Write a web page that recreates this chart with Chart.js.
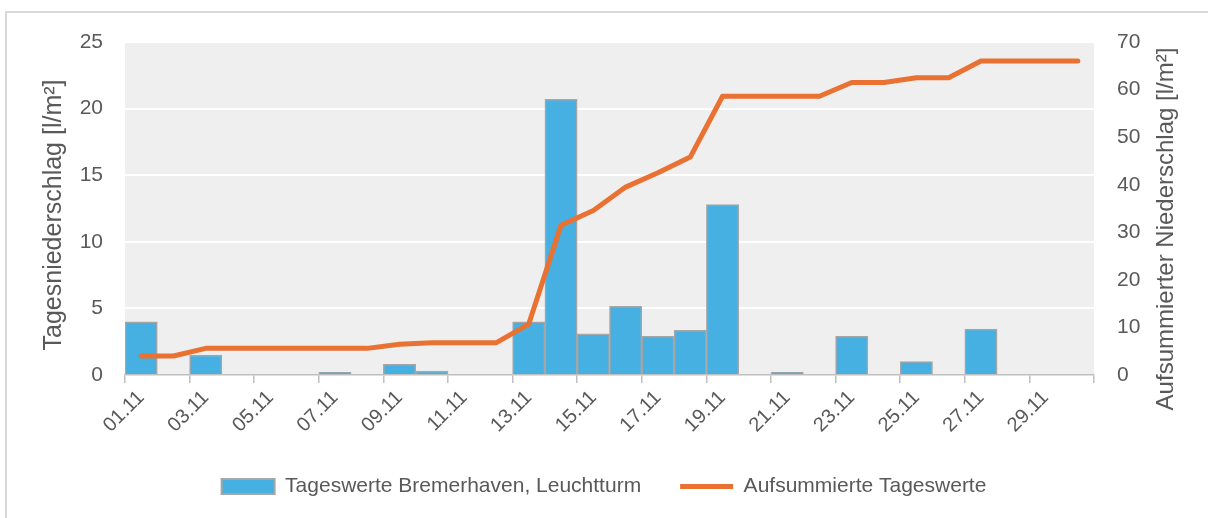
<!DOCTYPE html>
<html>
<head>
<meta charset="utf-8">
<script src="https://cdn.jsdelivr.net/npm/chart.js@4.4.1/dist/chart.umd.min.js"></script>
<style>
  html, body { margin: 0; padding: 0; background: #fff; overflow: hidden; }
  #frame { position: absolute; left: 5px; top: 11px; width: 1300px; height: 600px; border: 2px solid #d9d9d9; }
  #chart { position: absolute; left: 0; top: 0; }
</style>
</head>
<body>
<div id="frame"></div>
<canvas id="chart" width="1208" height="518"></canvas>
<script>
const days = ['01.11', '02.11', '03.11', '04.11', '05.11', '06.11', '07.11', '08.11', '09.11', '10.11',
  '11.11', '12.11', '13.11', '14.11', '15.11', '16.11', '17.11', '18.11', '19.11', '20.11',
  '21.11', '22.11', '23.11', '24.11', '25.11', '26.11', '27.11', '28.11', '29.11', '30.11'];
const dailyRain = [4.0, 0, 1.5, 0, 0, 0, 0.2, 0, 0.8, 0.3,
  0, 0, 4.0, 20.7, 3.1, 5.15, 2.9, 3.35, 12.8, 0,
  0.2, 0, 2.9, 0, 1.0, 0, 3.45, 0, 0, 0];
const cumulativeRain = [4.0, 4.0, 5.6, 5.6, 5.6, 5.6, 5.6, 5.6, 6.45, 6.8,
  6.8, 6.8, 10.7, 31.5, 34.6, 39.5, 42.5, 45.8, 58.6, 58.6,
  58.6, 58.6, 61.5, 61.5, 62.5, 62.5, 66.0, 66.0, 66.0, 66.0];
const barLabel = 'Tageswerte Bremerhaven, Leuchtturm';
const lineLabel = 'Aufsummierte Tageswerte';
const leftTitle = 'Tagesniederschlag [l/m²]';
const rightTitle = 'Aufsummierter Niederschlag [l/m²]';

const textColor = '#595959';
const fontFamily = '"Liberation Sans", Arial, sans-serif';
Chart.defaults.font.family = fontFamily;
Chart.defaults.color = textColor;

// grey plot area and the rotated axis titles (both read bottom to top)
const plotDecor = {
  id: 'plotDecor',
  beforeDraw(chart) {
    const a = chart.chartArea;
    const c = chart.ctx;
    c.save();
    c.fillStyle = '#efefef';
    c.fillRect(a.left, a.top, a.right - a.left, a.bottom - a.top);
    c.restore();
  },
  afterDraw(chart) {
    const c = chart.ctx;
    c.save();
    c.fillStyle = textColor;
    c.textAlign = 'center';
    c.textBaseline = 'middle';
    [[leftTitle, 54, 215, 25], [rightTitle, 1166, 229, 24]].forEach(([t, x, y, size]) => {
      c.save();
      c.font = size + 'px ' + fontFamily;
      c.translate(x, y);
      c.rotate(-Math.PI / 2);
      c.fillText(t, 0, 0);
      c.restore();
    });
    c.restore();
  }
};

const ctx = document.getElementById('chart').getContext('2d');
const chart = new Chart(ctx, {
  type: 'bar',
  data: {
    labels: days,
    datasets: [{
      type: 'bar',
      label: barLabel,
      data: dailyRain,
      yAxisID: 'y',
      backgroundColor: '#45b0e1',
      borderColor: '#a6a6a6',
      borderWidth: 1.5,
      categoryPercentage: 1,
      barPercentage: 1,
      order: 1
    }, {
      type: 'line',
      label: lineLabel,
      data: cumulativeRain,
      yAxisID: 'y1',
      borderColor: '#e97132',
      backgroundColor: '#e97132',
      borderWidth: 5,
      tension: 0,
      pointRadius: 0,
      borderJoinStyle: 'round',
      borderCapStyle: 'round',
      order: 0
    }]
  },
  options: {
    responsive: false,
    animation: false,
    devicePixelRatio: 1,
    layout: { padding: { left: 0, right: 0, top: 42, bottom: 11 } },
    plugins: {
      tooltip: { enabled: false },
      legend: {
        position: 'bottom',
        labels: {
          usePointStyle: true,
          pointStyleWidth: 53,
          boxHeight: 15,
          padding: 39,
          color: textColor,
          font: { size: 21 },
          sort: (a, b) => a.datasetIndex - b.datasetIndex,
          generateLabels(ch) {
            const items = Chart.defaults.plugins.legend.labels.generateLabels(ch);
            items.forEach(it => {
              it.pointStyle = it.datasetIndex === 0 ? 'rect' : 'line';
              if (it.datasetIndex === 0) it.lineWidth = 2;
            });
            return items;
          }
        }
      }
    },
    scales: {
      x: {
        offset: true,
        afterFit: s => { s.height = 62; },
        grid: {
          offset: true,
          drawOnChartArea: false,
          drawTicks: true,
          tickLength: 8,
          lineWidth: 1.5,
          color: c => (c.type !== 'tick' || c.index % 2 === 0) ? '#bfbfbf' : 'rgba(0,0,0,0)'
        },
        border: { display: true, color: '#bfbfbf', width: 1.5 },
        ticks: {
          autoSkip: false,
          maxRotation: 45,
          minRotation: 45,
          padding: 3,
          font: { size: 20 },
          callback: (v, i) => i % 2 === 0 ? days[i] : ''
        }
      },
      y: {
        position: 'left',
        min: 0,
        max: 25,
        afterFit: s => { s.width = 125; },
        ticks: { stepSize: 5, padding: 22, font: { size: 21 } },
        grid: {
          drawTicks: false,
          lineWidth: 2,
          color: c => c.tick && c.tick.value === 0 ? 'rgba(0,0,0,0)' : '#ffffff'
        },
        border: { display: false }
      },
      y1: {
        position: 'right',
        min: 0,
        max: 70,
        afterFit: s => { s.width = 114; },
        ticks: { stepSize: 10, padding: 23, font: { size: 21 } },
        grid: { display: false, drawTicks: false },
        border: { display: false }
      }
    }
  },
  plugins: [plotDecor]
});
</script>
</body>
</html>
